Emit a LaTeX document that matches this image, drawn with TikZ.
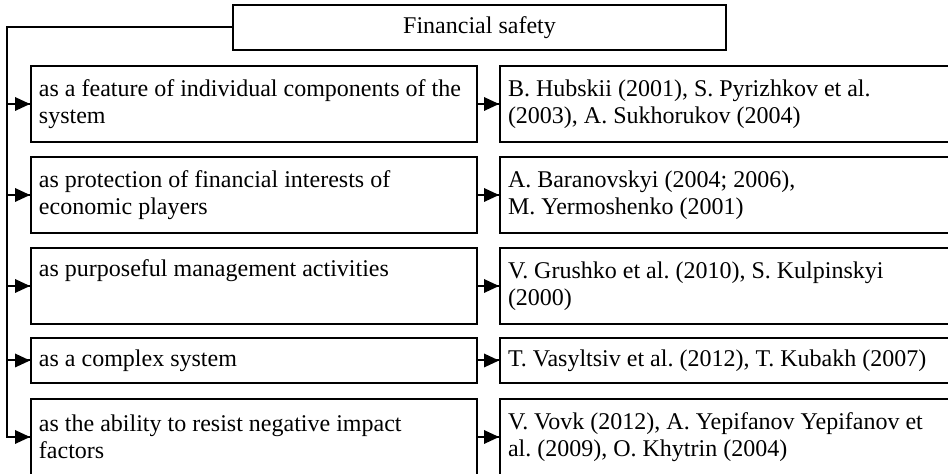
\documentclass[tikz,border=0pt]{standalone}
\usepackage{fontspec}
\setmainfont{Liberation Serif}
\frenchspacing
\begin{document}
\begin{tikzpicture}[x=0.5pt,y=-0.5pt,line width=1pt]
	\tikzstyle{every node}+=[font=\fontsize{12}{13.5}\selectfont, draw=black, line width=1pt]
	\tikzstyle{leftbox}=[anchor=north west, align=flush left, inner xsep=4pt, text width=215pt, minimum height=38pt]
	\tikzstyle{rightbox}=[leftbox, text width=222pt]
	\useasboundingbox (0,0) rectangle (948,474);
	\node [minimum width=246.5pt, minimum height=22.5pt] (fs) at (479.5,27.5) {Financial safety};
	\coordinate (bend) at (7,27.5);
	\node [leftbox] (l1) at (30,65) {as a feature of individual components of the\\system};
	\node [leftbox] (l2) at (30,156) {as protection of financial interests of\\economic players};
	\node [leftbox] (l3) at (30,247) {as purposeful management activities\\\strut};
	\node [leftbox, minimum height=22.5pt] (l4) at (30,337) {as a complex system};
	\node [leftbox] (l5) at (30,398) {as the ability to resist negative impact\\factors};
	\node [rightbox] (r1) at (499,65) {B. Hubskii (2001), S. Pyrizhkov et al.\\(2003), A. Sukhorukov (2004)};
	\node [rightbox] (r2) at (499,156) {A. Baranovskyi (2004; 2006),\\M. Yermoshenko (2001)};
	\node [rightbox] (r3) at (499,247) {V. Grushko et al. (2010), S. Kulpinskyi\\(2000)};
	\node [rightbox, minimum height=22.5pt] (r4) at (499,337) {T. Vasyltsiv et al. (2012), T. Kubakh (2007)};
	\node [rightbox] (r5) at (499,398) {V. Vovk (2012), A. Yepifanov Yepifanov et\\al. (2009), O. Khytrin (2004)};
	\draw (fs.west) -- (bend) |- (l5.west);
	\foreach \i in {1,...,5} {
		\draw (l\i.west -| bend) -- (l\i.west);
		\fill (l\i.west) -- ++(-15,-7) -- ++(0,14) -- cycle;
		\draw (l\i.east) -- (r\i.west);
		\fill (r\i.west) -- ++(-15,-7) -- ++(0,14) -- cycle;
	}
\end{tikzpicture}
\end{document}
